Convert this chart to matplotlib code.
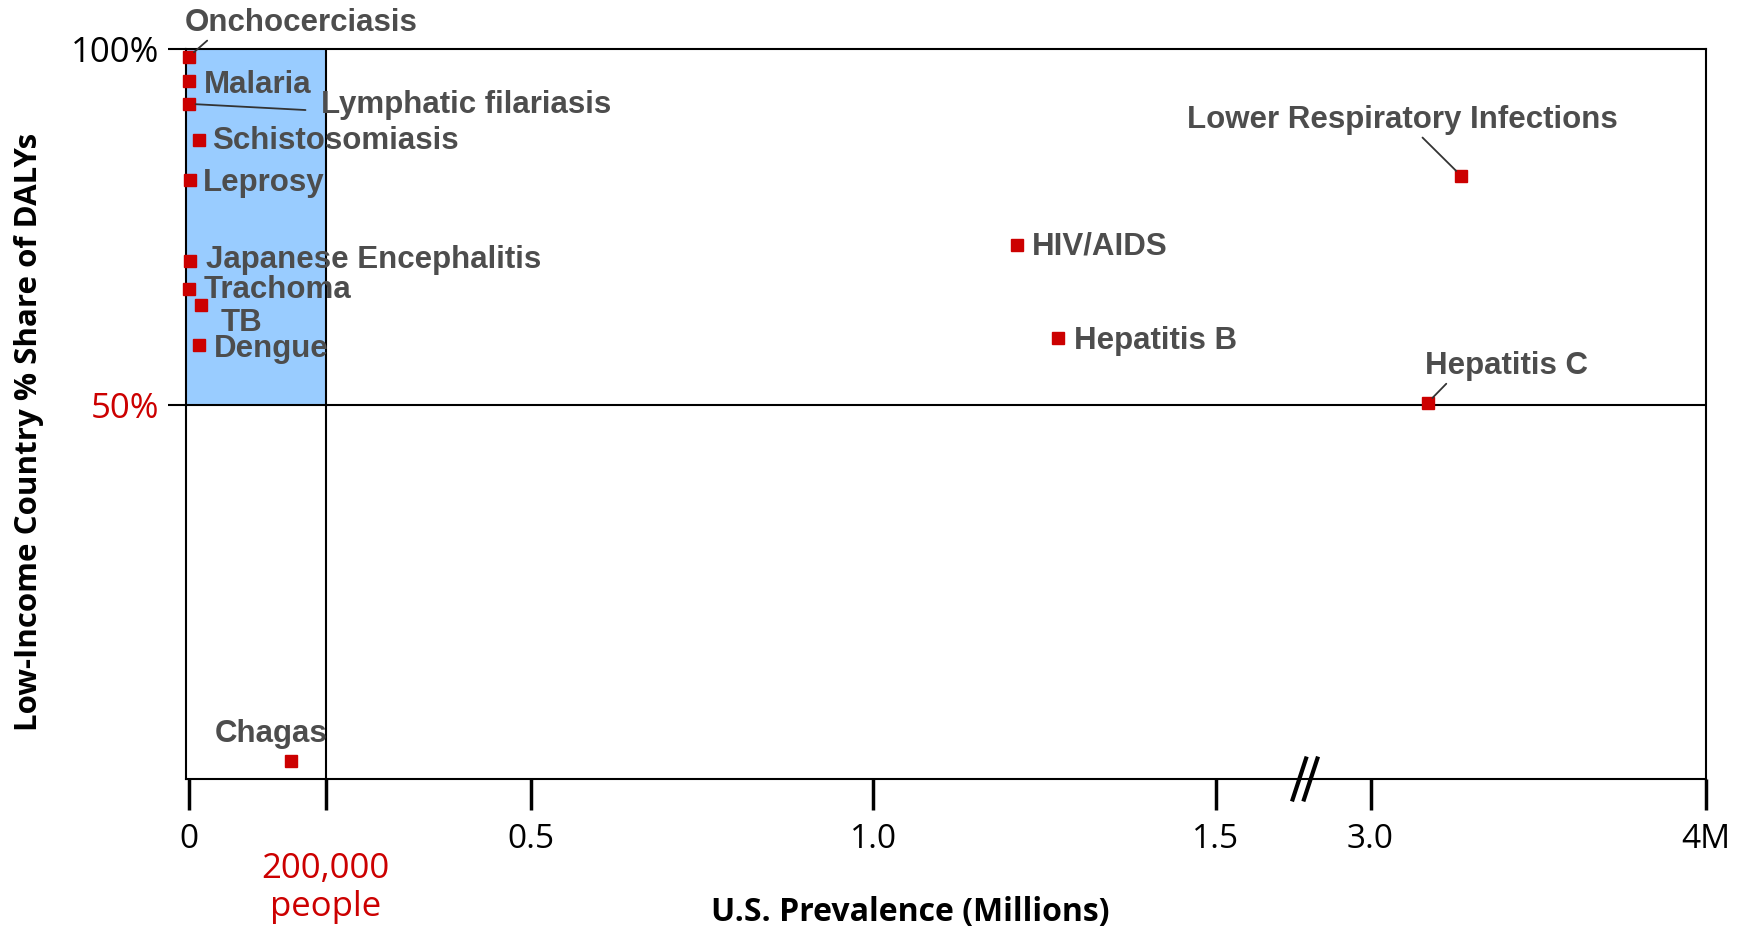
import numpy as np
import matplotlib
matplotlib.use("Agg")
import matplotlib.pyplot as plt
from matplotlib.patches import Rectangle

# data (US prevalence in millions, low-income share of DALYs in %)
diseases = ["Onchocerciasis", "Malaria", "Lymphatic filariasis", "Schistosomiasis",
            "Leprosy", "Japanese Encephalitis", "Trachoma", "TB", "Dengue", "Chagas",
            "HIV/AIDS", "Hepatitis B", "Lower Respiratory Infections", "Hepatitis C"]
us_prevalence = [0.0, 0.0, 0.0, 0.015, 0.002, 0.002, 0.0, 0.018, 0.015, 0.15,
                 1.21, 1.27, 3.27, 3.17]
low_income_share = [98.9, 95.5, 92.3, 87.2, 81.6, 70.3, 66.3, 64.1, 58.4, 0.0,
                    72.5, 59.4, 82.2, 50.3]

x_ticks = [0, 0.5, 1.0, 1.5, 3.0, 4.0]
x_tick_labels = ["0", "0.5", "1.0", "1.5", "3.0", "4M"]
y_ticks = [50, 100]
y_tick_labels = ["50%", "100%"]
threshold_x = 0.2   # 200,000 people
threshold_y = 50

RED = "#cc0000"
GREY = "#4d4d4d"
LABEL_FONT = ["Liberation Sans", "DejaVu Sans"]
TICK_FONT = ["Open Sans", "DejaVu Sans"]
TITLE_FONT = ["Open Sans", "DejaVu Sans"]

# broken axis: 1.5 -> 3.0 squeezed
GAP = 0.226
HI_K = 0.49


def fwd(x):
    x = np.asarray(x, float)
    return np.where(x <= 1.5, x,
                    np.where(x <= 3.0, 1.5 + (x - 1.5) * GAP / 1.5,
                             1.5 + GAP + (x - 3.0) * HI_K))


def inv(u):
    u = np.asarray(u, float)
    return np.where(u <= 1.5, u,
                    np.where(u <= 1.5 + GAP, 1.5 + (u - 1.5) * 1.5 / GAP,
                             3.0 + (u - 1.5 - GAP) / HI_K))


# label placement: offset (px) from marker, leader line relpos or None
layout = {
    "Onchocerciasis": ((-4, 34), (0.11, 0.0)),
    "Malaria": ((15, -4), None),
    "Lymphatic filariasis": ((132, -1), (0.0, 0.3)),
    "Schistosomiasis": ((13, -1), None),
    "Leprosy": ((13, -3), None),
    "Japanese Encephalitis": ((16, 1), None),
    "Trachoma": ((15, -1), None),
    "TB": ((20, -18), None),
    "Dengue": ((15, -4), None),
    "Chagas": ((-77, 27), None),
    "HIV/AIDS": ((15, -2), None),
    "Hepatitis B": ((16, -3), None),
    "Lower Respiratory Infections": ((-274, 56), (0.54, 0.0)),
    "Hepatitis C": ((-3, 37), (0.15, 0.0)),
}

fig = plt.figure(figsize=(17.46, 9.36), dpi=100)
ax = fig.add_axes([186 / 1746, 1 - 779 / 936, 1520 / 1746, 730 / 936])
ax.set_xscale("function", functions=(fwd, inv))
ax.set_xlim(-0.004, 4.0)
ax.set_ylim(-2.5, 100)

# highlighted quadrant and divider lines
ax.add_patch(Rectangle((ax.get_xlim()[0], threshold_y), threshold_x - ax.get_xlim()[0],
                       100 - threshold_y, facecolor="#99ccff", edgecolor="none", zorder=0))
ax.axhline(threshold_y, color="black", lw=1.5, zorder=1)
ax.axvline(threshold_x, color="black", lw=1.5, zorder=1)

ax.plot(us_prevalence, low_income_share, "s", color=RED, markersize=8.5,
        zorder=4, clip_on=False)

for name, x, y in zip(diseases, us_prevalence, low_income_share):
    (dx, dy), rel = layout[name]
    kw = {}
    if rel is not None:
        shrink_a = 9 if name == "Lymphatic filariasis" else 0
        kw["arrowprops"] = dict(arrowstyle="-", color="#333333", lw=1.3,
                                relpos=rel, shrinkA=shrink_a, shrinkB=5)
    ax.annotate(name, (x, y), xytext=(dx, dy), textcoords="offset pixels",
                ha="left", va="center", fontsize=22.5, fontweight="bold",
                color=GREY, family=LABEL_FONT, zorder=5, **kw)

for s in ax.spines.values():
    s.set_linewidth(1.5)

ax.set_xticks(x_ticks + [threshold_x])
ax.set_xticklabels(x_tick_labels + [""])
ax.tick_params(axis="x", length=22, width=2.5, pad=10, labelsize=24)
ax.set_yticks(y_ticks)
ax.set_yticklabels(y_tick_labels)
ax.tick_params(axis="y", length=13, width=1.5, pad=6, labelsize=25)
for lab in ax.get_yticklabels():
    if lab.get_text() == "50%":
        lab.set_color(RED)
for lab in ax.get_xticklabels() + ax.get_yticklabels():
    lab.set_family(TICK_FONT)

ax.text(threshold_x, -0.1, "200,000\npeople", transform=ax.get_xaxis_transform(),
        ha="center", va="top", color=RED, fontsize=25, linespacing=1.15,
        family=TICK_FONT)

# break marks on the x axis
xt = ax.get_xaxis_transform()
for cx in (2.31, 2.42):
    ax.plot([cx - 0.065, cx + 0.065], [-0.028, 0.028], color="black", lw=3,
            transform=xt, clip_on=False, zorder=6)

fig.text(910 / 1746, 1 - 913 / 936, "U.S. Prevalence (Millions)", ha="center",
         va="center", fontsize=23, fontweight="bold", family=TITLE_FONT)
fig.text(29 / 1746, 1 - 432 / 936, "Low-Income Country % Share of DALYs", ha="center",
         va="center", rotation=90, fontsize=22.5, fontweight="bold",
         family=TITLE_FONT)

fig.savefig("out.png", dpi=100)
